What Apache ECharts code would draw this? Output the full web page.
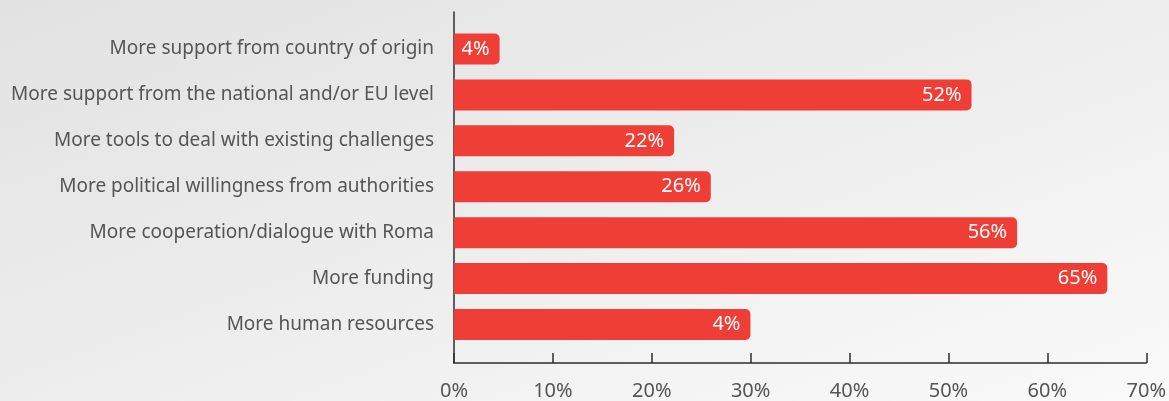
<!DOCTYPE html>
<html><head><meta charset="utf-8">
<script src="https://cdn.jsdelivr.net/npm/echarts@6/dist/echarts.min.js"></script>
<style>html,body{margin:0;padding:0;}#c{width:1169px;height:401px;background:linear-gradient(160deg,#e2e2e2 0%,#ececec 45%,#fafafa 100%);}</style>
</head><body><div id="c"></div>
<script>
const categories = [
  "More support from country of origin",
  "More support from the national and/or EU level",
  "More tools to deal with existing challenges",
  "More political willingness from authorities",
  "More cooperation/dialogue with Roma",
  "More funding",
  "More human resources"
];
const values = [4.6, 52.2, 22.2, 25.9, 56.8, 65.9, 29.9];
const valueLabels = ["4%", "52%", "22%", "26%", "56%", "65%", "4%"];
const xTicks = [0, 10, 20, 30, 40, 50, 60, 70];

const font = "'Noto Sans', 'Open Sans', sans-serif";
const chart = echarts.init(document.getElementById('c'), null, {renderer: 'canvas'});
chart.setOption({
  animation: false,
  backgroundColor: 'transparent',
  grid: [
    {left: 454, right: 21, top: 12, bottom: 32},
    {left: 454, right: 21, top: 26, bottom: 53.5}
  ],
  xAxis: [
    {
      gridIndex: 0, type: 'value', min: xTicks[0], max: xTicks[xTicks.length - 1], interval: 10,
      axisLine: {show: true, lineStyle: {color: '#2e2e2e', width: 1.5}},
      axisTick: {show: true, inside: true, length: 10, lineStyle: {color: '#2e2e2e', width: 1.5}},
      splitLine: {show: false},
      axisLabel: {color: '#555', fontSize: 20, fontFamily: font, margin: 18, formatter: v => v + '%'}
    },
    {
      gridIndex: 1, type: 'value', min: xTicks[0], max: xTicks[xTicks.length - 1],
      show: false, splitLine: {show: false}
    }
  ],
  yAxis: [
    {
      gridIndex: 0, type: 'value', min: 0, max: 1,
      axisLine: {show: true, onZero: false, lineStyle: {color: '#2e2e2e', width: 1.5}},
      axisTick: {show: false}, axisLabel: {show: false}, splitLine: {show: false}
    },
    {
      gridIndex: 1, type: 'category', data: categories, inverse: true,
      axisLine: {show: false}, axisTick: {show: false},
      axisLabel: {color: '#555', fontSize: 19, fontFamily: font, margin: 20}
    }
  ],
  series: [{
    type: 'bar', xAxisIndex: 1, yAxisIndex: 1,
    data: values, barWidth: 31,
    itemStyle: {color: '#ef3e36', borderRadius: [0, 5, 5, 0]},
    label: {
      show: true, position: 'insideRight', distance: 10,
      color: '#fff', fontSize: 20, fontFamily: font,
      formatter: p => valueLabels[p.dataIndex]
    }
  }]
});
</script></body></html>
